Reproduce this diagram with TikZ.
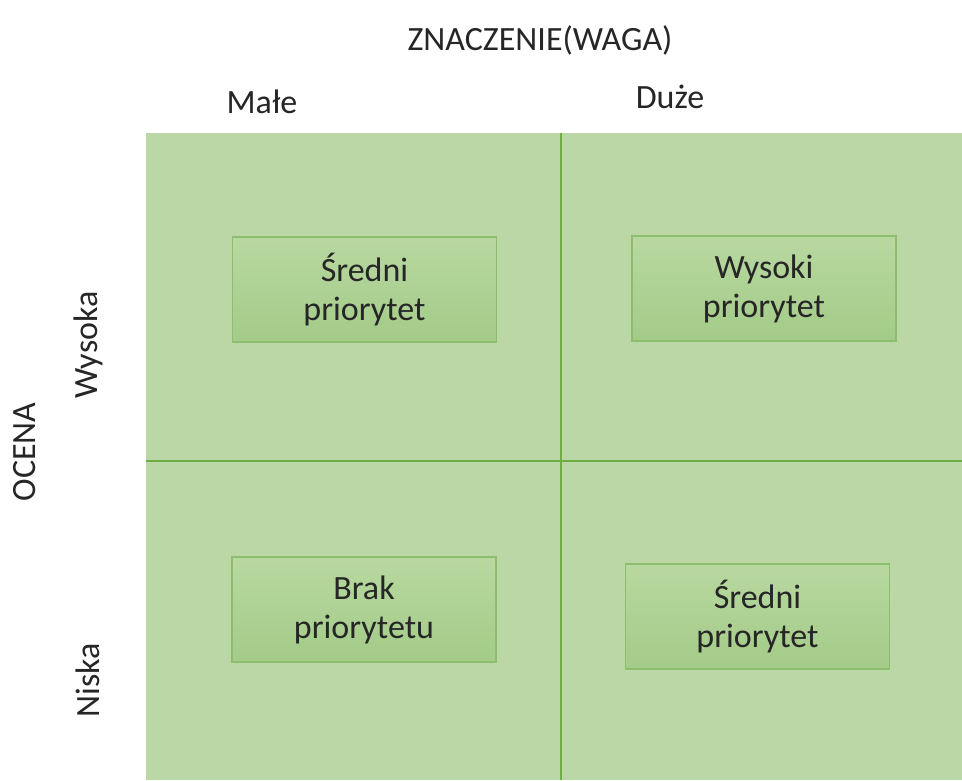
\documentclass[tikz,border=0pt]{standalone}
\usepackage{fontspec}
\setmainfont{Carlito}
\usetikzlibrary{positioning}
\definecolor{fieldgreen}{RGB}{187,215,166}
\definecolor{linegreen}{RGB}{112,173,71}
\definecolor{boxtop}{RGB}{184,216,160}
\definecolor{boxbottom}{RGB}{163,203,136}
\definecolor{boxedge}{RGB}{140,190,110}
\tikzset{
  prio/.style = {draw=boxedge, line width=1.2pt, top color=boxtop,
                 bottom color=boxbottom, minimum width=264pt,
                 minimum height=105pt, align=center, inner sep=0pt,
                 font=\fontsize{34}{39}\selectfont, text=black!85},
  axis/.style = {font=\fontsize{34}{40}\selectfont, text=black!85}
}
\newcommand{\prionode}[4]{
  \node[prio] (#1) at (#2,#3) {#4};
}

\begin{document}
\begin{tikzpicture}[x=1pt,y=-1pt]
	\useasboundingbox (0,0) rectangle (962,780);
	\fill[white] (0,0) rectangle (962,780);
	\node[fill=fieldgreen, inner sep=0pt, minimum width=816pt,
	      minimum height=647pt] (field) at (554,456.5) {};
	\coordinate (vtop) at (561,133);
	\coordinate (vbot) at (561,780);
	\coordinate (hleft) at (146,461);
	\coordinate (hright) at (962,461);
	\draw[linegreen, line width=2.5pt] (vtop) -- (vbot);
	\draw[linegreen, line width=2.5pt] (hleft) -- (hright);
	\prionode{SL}{364.5}{289.5}{Średni\\priorytet}
	\prionode{WP}{764}{288.5}{Wysoki\\priorytet}
	\prionode{BP}{364}{609.5}{Brak\\priorytetu}
	\prionode{SP}{757.5}{616.5}{Średni\\priorytet}
	\node[axis] (znaczenie) at (540,40) {ZNACZENIE(WAGA)};
	\node[axis] (male) at (262,102) {Małe};
	\node[axis] (duze) at (670,97) {Duże};
	\node[axis, rotate=90] (wysoka) at (88,345) {Wysoka};
	\node[axis, rotate=90] (ocena) at (25,452) {OCENA};
	\node[axis, rotate=90] (niska) at (88,680) {Niska};
\end{tikzpicture}
\end{document}
